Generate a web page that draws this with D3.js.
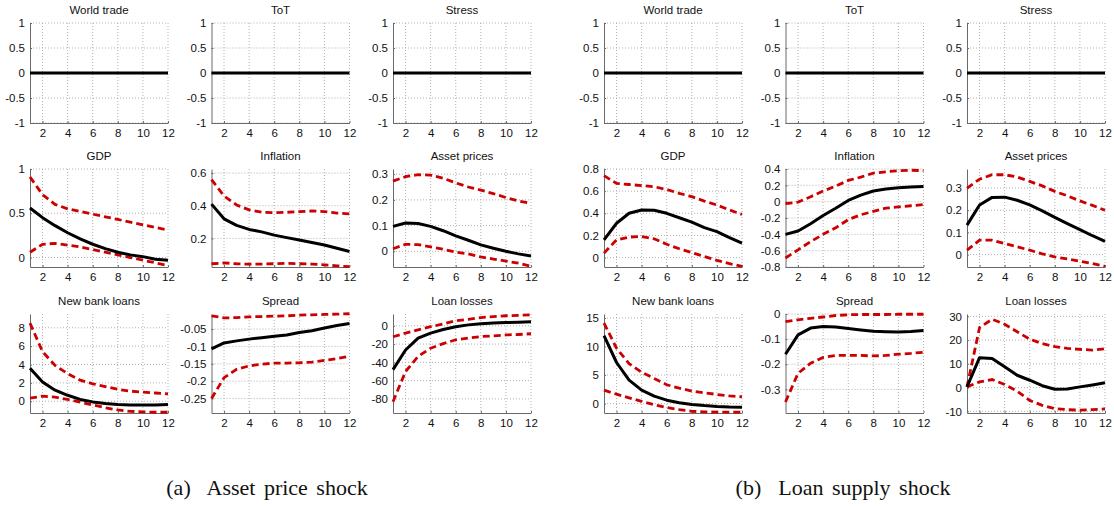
<!DOCTYPE html>
<html>
<head>
<meta charset="utf-8">
<script src="https://cdn.jsdelivr.net/npm/d3@7"></script>
<style>
  body { margin: 0; background: #fff; }
  svg { display: block; }
</style>
</head>
<body>
<svg id="fig" width="1114" height="506"></svg>
<script>
// ---------- data: impulse responses over a 12-quarter horizon ----------
const horizon = [1, 2, 3, 4, 5, 6, 7, 8, 9, 10, 11, 12];
const xTicks = [2, 4, 6, 8, 10, 12];
const xTickLabels = ["2", "4", "6", "8", "10", "12"];

const zeroResponse = [0, 0, 0, 0, 0, 0, 0, 0, 0, 0, 0, 0];

const unitTicks = [-1, -0.5, 0, 0.5, 1];
const unitTickLabels = ["-1", "-0.5", "0", "0.5", "1"];

// (a) Asset price shock
const gdpA_mid = [0.56, 0.45, 0.36, 0.28, 0.21, 0.15, 0.10, 0.06, 0.03, 0.01, -0.02, -0.03];
const gdpA_hi  = [0.91, 0.71, 0.60, 0.55, 0.52, 0.49, 0.46, 0.43, 0.40, 0.37, 0.34, 0.31];
const gdpA_lo  = [0.06, 0.15, 0.16, 0.14, 0.12, 0.09, 0.06, 0.03, 0.00, -0.03, -0.06, -0.09];
const gdpA_ticks = [0, 0.5, 1];
const gdpA_labels = ["0", "0.5", "1"];

const infA_mid = [0.41, 0.32, 0.28, 0.255, 0.24, 0.22, 0.205, 0.19, 0.175, 0.16, 0.14, 0.12];
const infA_hi  = [0.56, 0.46, 0.405, 0.375, 0.36, 0.358, 0.36, 0.364, 0.368, 0.364, 0.355, 0.35];
const infA_lo  = [0.045, 0.05, 0.045, 0.042, 0.043, 0.045, 0.047, 0.045, 0.043, 0.038, 0.032, 0.027];
const infA_ticks = [0.2, 0.4, 0.6];
const infA_labels = ["0.2", "0.4", "0.6"];

const assetA_mid = [0.097, 0.11, 0.108, 0.097, 0.08, 0.06, 0.043, 0.025, 0.012, 0.0, -0.01, -0.018];
const assetA_hi  = [0.273, 0.29, 0.298, 0.296, 0.284, 0.266, 0.25, 0.238, 0.224, 0.209, 0.196, 0.186];
const assetA_lo  = [0.01, 0.027, 0.026, 0.017, 0.008, -0.003, -0.01, -0.022, -0.03, -0.038, -0.046, -0.058];
const assetA_ticks = [0, 0.1, 0.2, 0.3];
const assetA_labels = ["0", "0.1", "0.2", "0.3"];

const loansA_mid = [3.6, 2.1, 1.2, 0.65, 0.2, -0.07, -0.25, -0.35, -0.4, -0.42, -0.4, -0.35];
const loansA_hi  = [8.5, 5.4, 3.9, 3.0, 2.3, 1.9, 1.6, 1.3, 1.1, 1.0, 0.9, 0.8];
const loansA_lo  = [0.35, 0.55, 0.45, 0.2, -0.1, -0.4, -0.7, -0.95, -1.1, -1.15, -1.2, -1.2];
const loansA_ticks = [0, 2, 4, 6, 8];
const loansA_labels = ["0", "2", "4", "6", "8"];

const spreadA_mid = [-0.107, -0.09, -0.084, -0.079, -0.075, -0.071, -0.067, -0.06, -0.055, -0.047, -0.04, -0.034];
const spreadA_hi  = [-0.012, -0.018, -0.017, -0.015, -0.014, -0.013, -0.012, -0.01, -0.009, -0.008, -0.007, -0.006];
const spreadA_lo  = [-0.25, -0.19, -0.166, -0.156, -0.151, -0.148, -0.148, -0.147, -0.145, -0.14, -0.135, -0.128];
const spreadA_ticks = [-0.25, -0.2, -0.15, -0.1, -0.05];
const spreadA_labels = ["-0.25", "-0.2", "-0.15", "-0.1", "-0.05"];

const lossA_mid = [-48, -26.5, -13.5, -8, -4, -1, 1, 2.2, 3, 3.6, 4, 4.3];
const lossA_hi  = [-12, -8, -4.5, -1, 2, 5.5, 7, 9, 10, 11, 11.5, 12];
const lossA_lo  = [-83, -50, -33.5, -24.5, -19.5, -15.3, -13.5, -11.8, -11, -10, -9.5, -8.7];
const lossA_ticks = [-80, -60, -40, -20, 0];
const lossA_labels = ["-80", "-60", "-40", "-20", "0"];

// (b) Loan supply shock
const gdpB_mid = [0.16, 0.31, 0.40, 0.43, 0.428, 0.40, 0.36, 0.32, 0.27, 0.235, 0.18, 0.13];
const gdpB_hi  = [0.74, 0.67, 0.66, 0.65, 0.64, 0.615, 0.58, 0.55, 0.51, 0.475, 0.43, 0.39];
const gdpB_lo  = [0.04, 0.16, 0.185, 0.19, 0.17, 0.12, 0.08, 0.045, 0.01, -0.025, -0.055, -0.08];
const gdpB_ticks = [0, 0.2, 0.4, 0.6, 0.8];
const gdpB_labels = ["0", "0.2", "0.4", "0.6", "0.8"];

const infB_mid = [-0.40, -0.36, -0.27, -0.17, -0.08, 0.015, 0.08, 0.13, 0.155, 0.17, 0.18, 0.185];
const infB_hi  = [-0.025, -0.005, 0.06, 0.13, 0.19, 0.26, 0.30, 0.35, 0.365, 0.38, 0.385, 0.38];
const infB_lo  = [-0.69, -0.59, -0.49, -0.40, -0.32, -0.22, -0.16, -0.12, -0.08, -0.065, -0.05, -0.035];
const infB_ticks = [-0.8, -0.6, -0.4, -0.2, 0, 0.2, 0.4];
const infB_labels = ["-0.8", "-0.6", "-0.4", "-0.2", "0", "0.2", "0.4"];

const assetB_mid = [0.133, 0.224, 0.258, 0.259, 0.245, 0.224, 0.197, 0.168, 0.14, 0.113, 0.085, 0.06];
const assetB_hi  = [0.30, 0.34, 0.36, 0.36, 0.35, 0.33, 0.31, 0.285, 0.265, 0.242, 0.222, 0.20];
const assetB_lo  = [0.02, 0.065, 0.065, 0.05, 0.035, 0.02, 0.003, -0.01, -0.02, -0.03, -0.04, -0.053];
const assetB_ticks = [0, 0.1, 0.2, 0.3];
const assetB_labels = ["0", "0.1", "0.2", "0.3"];

const loansB_mid = [11.9, 7.2, 4.1, 2.35, 1.3, 0.6, 0.15, -0.15, -0.35, -0.5, -0.6, -0.65];
const loansB_hi  = [14.1, 9.7, 7.0, 5.5, 4.4, 3.3, 2.7, 2.2, 1.9, 1.6, 1.35, 1.2];
const loansB_lo  = [2.35, 1.65, 1.0, 0.4, -0.2, -0.7, -1.05, -1.35, -1.45, -1.5, -1.5, -1.5];
const loansB_ticks = [0, 5, 10, 15];
const loansB_labels = ["0", "5", "10", "15"];

const spreadB_mid = [-0.16, -0.083, -0.056, -0.05, -0.052, -0.058, -0.064, -0.069, -0.071, -0.072, -0.07, -0.066];
const spreadB_hi  = [-0.03, -0.023, -0.017, -0.012, -0.006, -0.003, -0.002, -0.002, -0.002, -0.001, -0.001, -0.001];
const spreadB_lo  = [-0.35, -0.236, -0.196, -0.173, -0.165, -0.165, -0.165, -0.167, -0.165, -0.16, -0.157, -0.152];
const spreadB_ticks = [-0.3, -0.2, -0.1, 0];
const spreadB_labels = ["-0.3", "-0.2", "-0.1", "0"];

const lossB_mid = [0.3, 12.6, 12.3, 8.8, 5.2, 3.1, 0.8, -0.7, -0.6, 0.3, 1.1, 2.0];
const lossB_hi  = [0.3, 25.3, 28.8, 26.7, 23.5, 20.4, 18.5, 17.3, 16.5, 16.1, 15.8, 16.4];
const lossB_lo  = [0.3, 2.4, 3.4, 1.3, -1.5, -5.4, -7.5, -8.9, -9.3, -9.5, -9.3, -9.0];
const lossB_ticks = [-10, 0, 10, 20, 30];
const lossB_labels = ["-10", "0", "10", "20", "30"];

// ---------- figure assembly ----------
const unitChart = (title) => ({
  title, mid: zeroResponse, lo: null, hi: null,
  domain: [-1, 1], ticks: unitTicks, labels: unitTickLabels
});

const figures = [
  {
    caption: "(a)  Asset price shock",
    left: 30, captionX: 267,
    charts: [
      unitChart("World trade"), unitChart("ToT"), unitChart("Stress"),
      { title: "GDP", mid: gdpA_mid, lo: gdpA_lo, hi: gdpA_hi, domain: [-0.107, 1.0], ticks: gdpA_ticks, labels: gdpA_labels },
      { title: "Inflation", mid: infA_mid, lo: infA_lo, hi: infA_hi, domain: [0.025, 0.625], ticks: infA_ticks, labels: infA_labels },
      { title: "Asset prices", mid: assetA_mid, lo: assetA_lo, hi: assetA_hi, domain: [-0.061, 0.32], ticks: assetA_ticks, labels: assetA_labels },
      { title: "New bank loans", mid: loansA_mid, lo: loansA_lo, hi: loansA_hi, domain: [-1.28, 9.5], ticks: loansA_ticks, labels: loansA_labels },
      { title: "Spread", mid: spreadA_mid, lo: spreadA_lo, hi: spreadA_hi, domain: [-0.2916, -0.0067], ticks: spreadA_ticks, labels: spreadA_labels },
      { title: "Loan losses", mid: lossA_mid, lo: lossA_lo, hi: lossA_hi, domain: [-95.4, 12.9], ticks: lossA_ticks, labels: lossA_labels }
    ]
  },
  {
    caption: "(b)  Loan supply shock",
    left: 604, captionX: 843,
    charts: [
      unitChart("World trade"), unitChart("ToT"), unitChart("Stress"),
      { title: "GDP", mid: gdpB_mid, lo: gdpB_lo, hi: gdpB_hi, domain: [-0.085, 0.8], ticks: gdpB_ticks, labels: gdpB_labels },
      { title: "Inflation", mid: infB_mid, lo: infB_lo, hi: infB_hi, domain: [-0.8, 0.4], ticks: infB_ticks, labels: infB_labels },
      { title: "Asset prices", mid: assetB_mid, lo: assetB_lo, hi: assetB_hi, domain: [-0.056, 0.386], ticks: assetB_ticks, labels: assetB_labels },
      { title: "New bank loans", mid: loansB_mid, lo: loansB_lo, hi: loansB_hi, domain: [-1.65, 15.7], ticks: loansB_ticks, labels: loansB_labels },
      { title: "Spread", mid: spreadB_mid, lo: spreadB_lo, hi: spreadB_hi, domain: [-0.394, 0], ticks: spreadB_ticks, labels: spreadB_labels },
      { title: "Loan losses", mid: lossB_mid, lo: lossB_lo, hi: lossB_hi, domain: [-10.7, 31], ticks: lossB_ticks, labels: lossB_labels }
    ]
  }
];

// ---------- layout ----------
const colStep = 181.5;
const plotW = 138;
const rowTops = [23, 169, 314];
const rowHeights = [100, 98, 99];

const FONT = "'Liberation Sans', Arial, Helvetica, sans-serif";
const svg = d3.select("#fig");

figures.forEach(fig => {
  const g = svg.append("g");

  fig.charts.forEach((c, i) => {
    const col = i % 3, row = Math.floor(i / 3);
    const x0 = fig.left + col * colStep;
    const y0 = rowTops[row];
    const h = rowHeights[row];

    const x = d3.scaleLinear().domain([1, 12]).range([0, plotW]);
    const y = d3.scaleLinear().domain(c.domain).range([h, 0]);

    const p = g.append("g").attr("transform", `translate(${x0},${y0})`);

    // dotted grid
    p.append("g").selectAll("line.vx").data(xTicks).join("line")
      .attr("x1", d => x(d)).attr("x2", d => x(d))
      .attr("y1", 0).attr("y2", h)
      .attr("stroke", "#a8a8a8").attr("stroke-width", 0.9)
      .attr("stroke-dasharray", "1,2");
    p.append("g").selectAll("line.hy").data(c.ticks).join("line")
      .attr("x1", 0).attr("x2", plotW)
      .attr("y1", d => y(d)).attr("y2", d => y(d))
      .attr("stroke", "#a8a8a8").attr("stroke-width", 0.9)
      .attr("stroke-dasharray", "1,2");

    // axes (left and bottom only)
    const xAxis = d3.axisBottom(x).tickValues(xTicks)
      .tickFormat((d, k) => xTickLabels[k]).tickSizeInner(-2).tickSizeOuter(0).tickPadding(6);
    const yAxis = d3.axisLeft(y).tickValues(c.ticks)
      .tickFormat((d, k) => c.labels[k]).tickSizeInner(-2).tickSizeOuter(0).tickPadding(5);

    const gx = p.append("g").attr("transform", `translate(0,${h})`).call(xAxis);
    const gy = p.append("g").call(yAxis);
    [gx, gy].forEach(a => {
      a.select(".domain").attr("stroke", "#6a6a6a").attr("stroke-width", 1);
      a.selectAll(".tick line").attr("stroke", "#6a6a6a");
      a.selectAll(".tick text").attr("fill", "#111").attr("font-family", FONT).attr("font-size", 11.5);
    });

    // title
    p.append("text")
      .attr("x", plotW / 2).attr("y", -9)
      .attr("text-anchor", "middle")
      .attr("font-family", FONT).attr("font-size", 11.5).attr("fill", "#111")
      .text(c.title);

    const line = d3.line().x((d, k) => x(horizon[k])).y(d => y(d));

    // confidence bands
    [c.lo, c.hi].forEach(band => {
      if (!band) return;
      p.append("path").datum(band)
        .attr("d", line).attr("fill", "none")
        .attr("stroke", "#cc0000").attr("stroke-width", 2.8)
        .attr("stroke-dasharray", "7,4");
    });

    // median response
    p.append("path").datum(c.mid)
      .attr("d", line).attr("fill", "none")
      .attr("stroke", "#000").attr("stroke-width", 3)
      .attr("stroke-linejoin", "round");
  });

  g.append("text")
    .attr("x", fig.captionX).attr("y", 495)
    .attr("text-anchor", "middle")
    .attr("font-family", "'Liberation Serif', 'Times New Roman', serif")
    .attr("font-size", 22).attr("fill", "#111")
    .attr("word-spacing", 3)
    .attr("xml:space", "preserve")
    .style("white-space", "pre")
    .text(fig.caption);
});
</script>
</body>
</html>
